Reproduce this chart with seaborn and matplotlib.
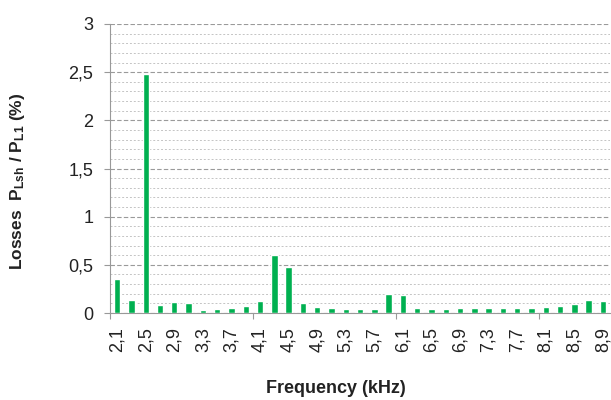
import matplotlib
matplotlib.use("Agg")
import matplotlib.pyplot as plt
from matplotlib.ticker import MultipleLocator, FixedLocator
import seaborn as sns
import pandas as pd

# Harmonic frequencies (kHz) and relative losses (%)
freq_khz = [2.1, 2.3, 2.5, 2.7, 2.9, 3.1, 3.3, 3.5, 3.7, 3.9,
            4.1, 4.3, 4.5, 4.7, 4.9, 5.1, 5.3, 5.5, 5.7, 5.9,
            6.1, 6.3, 6.5, 6.7, 6.9, 7.1, 7.3, 7.5, 7.7, 7.9,
            8.1, 8.3, 8.5, 8.7, 8.9]
losses_pct = [0.35, 0.14, 2.48, 0.08, 0.11, 0.10, 0.035, 0.04, 0.05, 0.07,
              0.125, 0.60, 0.48, 0.10, 0.06, 0.05, 0.04, 0.04, 0.045, 0.20,
              0.19, 0.05, 0.04, 0.04, 0.05, 0.05, 0.05, 0.05, 0.05, 0.055,
              0.06, 0.07, 0.095, 0.13, 0.12]
y_ticks = [0, 0.5, 1, 1.5, 2, 2.5, 3]
y_tick_labels = ["0", "0,5", "1", "1,5", "2", "2,5", "3"]

freq_labels = [f"{f:.1f}".replace(".", ",") for f in freq_khz]
df = pd.DataFrame({"freq": freq_labels, "loss": losses_pct})

sns.set_theme(style="white")
plt.rcParams["font.family"] = ["Liberation Sans", "DejaVu Sans"]
plt.rcParams["mathtext.fontset"] = "custom"
plt.rcParams["mathtext.rm"] = "Liberation Sans"
plt.rcParams["mathtext.bf"] = "Liberation Sans:bold"
plt.rcParams["mathtext.it"] = "Liberation Sans:italic"

fig = plt.figure(figsize=(6.11, 4.0), dpi=100)
ax = fig.add_axes([110 / 611, 87 / 400, 500 / 611, 289 / 400])

sns.barplot(data=df, x="freq", y="loss", order=freq_labels, color="#00B050",
            saturation=1, width=0.45, ax=ax, zorder=3)

ax.set_ylim(0, 3)
ax.set_xlim(-0.5, len(freq_labels) - 0.5)

# grid: dashed majors every 0.5, dotted minors every 0.1
ax.yaxis.set_major_locator(FixedLocator(y_ticks))
ax.set_yticklabels(y_tick_labels)
ax.yaxis.set_minor_locator(MultipleLocator(0.1))
ax.grid(axis="y", which="major", color="#9a9a9a", linestyle=(0, (4, 2)), linewidth=0.8, zorder=0)
ax.grid(axis="y", which="minor", color="#c4c4c4", linestyle=(0, (2, 2)), linewidth=0.7, zorder=0)
ax.set_axisbelow(True)

# x labels on every other category, tick marks at every tenth boundary
ax.set_xticks(range(0, len(freq_labels), 2))
ax.set_xticklabels(freq_labels[::2], rotation=90)
ax.xaxis.set_minor_locator(FixedLocator([-0.5, 9.5, 19.5, 29.5]))
ax.tick_params(axis="x", which="major", length=0, pad=10, labelsize=13, colors="#222222")
ax.tick_params(axis="x", which="minor", length=4, width=0.8, color="#999999", direction="out", bottom=True)
ax.tick_params(axis="y", which="major", length=4, width=0.8, color="#999999", direction="out",
               left=True, labelsize=13, labelcolor="#222222", pad=8)
ax.tick_params(axis="y", which="minor", length=0)

for side in ["top", "right"]:
    ax.spines[side].set_visible(False)
for side in ["left", "bottom"]:
    ax.spines[side].set_color("#999999")
    ax.spines[side].set_linewidth(0.8)

ax.set_xlabel("Frequency (kHz)", fontsize=13, fontweight="bold", color="#222222")
ax.xaxis.set_label_coords(0.452, -0.232)
ax.set_ylabel(r"Losses  $\mathbf{P}_{\mathbf{Lsh}}$ / $\mathbf{P}_{\mathbf{L1}}$ (%)",
              fontsize=12.5, fontweight="bold", color="#222222")
ax.yaxis.set_label_coords(-0.166, 0.457)

fig.savefig("out.png", dpi=100)
